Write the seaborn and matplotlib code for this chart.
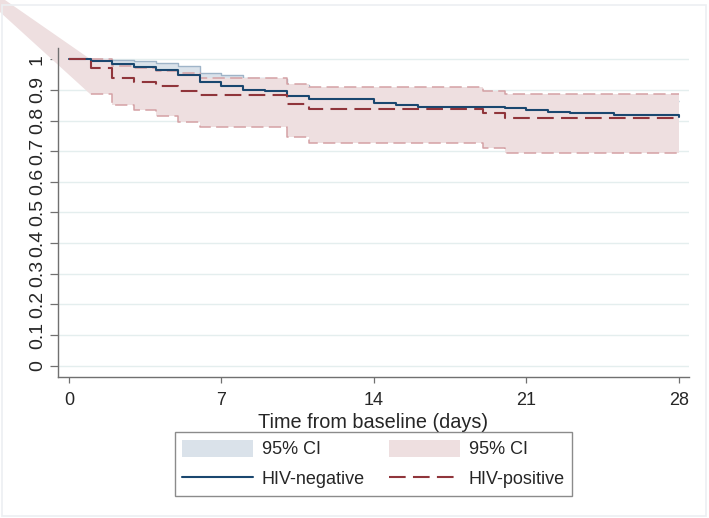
import numpy as np
import pandas as pd
import matplotlib
matplotlib.use('Agg')
import matplotlib.pyplot as plt
import seaborn as sns
from matplotlib.patches import Patch, Rectangle
from matplotlib.lines import Line2D

# ── Data ───────────────────────────────────────────────────────────────────────
neg_t = [0, 1, 2, 3, 4, 5, 6, 7, 8, 9, 10, 11, 14, 15, 16, 20, 21, 22, 23, 25, 28]
neg_s = [1.0, 0.995, 0.985, 0.976, 0.965, 0.950, 0.926, 0.912, 0.901, 0.896, 0.879,
         0.869, 0.857, 0.850, 0.845, 0.840, 0.834, 0.827, 0.823, 0.818, 0.812]

neg_ci_t = [1, 2, 3, 4, 5, 6, 7, 8, 9, 10, 11, 14, 15, 16, 20, 21, 22, 23, 25, 28]
neg_hi = [1.0, 0.997, 0.993, 0.989, 0.978, 0.956, 0.948, 0.938, 0.934, 0.915, 0.906,
          0.896, 0.890, 0.886, 0.882, 0.877, 0.872, 0.868, 0.864, 0.864]
neg_lo = [0.965, 0.955, 0.945, 0.935, 0.915, 0.885, 0.872, 0.860, 0.855, 0.835, 0.825,
          0.810, 0.803, 0.797, 0.791, 0.784, 0.776, 0.771, 0.765, 0.765]

pos_t = [0, 1, 2, 3, 4, 5, 6, 10, 11, 19, 20, 28]
pos_s = [1.0, 0.972, 0.940, 0.927, 0.912, 0.897, 0.882, 0.853, 0.839, 0.823, 0.809, 0.809]

pos_ci_t = [1, 2, 3, 4, 5, 6, 10, 11, 19, 20, 28]
pos_hi = [1.0, 0.978, 0.970, 0.963, 0.955, 0.939, 0.919, 0.908, 0.897, 0.885, 0.885]
pos_lo = [0.885, 0.850, 0.834, 0.814, 0.796, 0.778, 0.747, 0.728, 0.711, 0.693, 0.693]

# lead-in wedge of the HIV-positive band (as rendered in the original)
lead_t = [-6.5, 1]
lead_hi = [1.37, 1.0]
lead_lo = [1.37, 0.885]

y_ticks = [0, 0.1, 0.2, 0.3, 0.4, 0.5, 0.6, 0.7, 0.8, 0.9, 1]
y_labels = ['0', '0.1', '0.2', '0.3', '0.4', '0.5', '0.6', '0.7', '0.8', '0.9', '1']
x_ticks = [0, 7, 14, 21, 28]

# ── Style ──────────────────────────────────────────────────────────────────────
sns.set_style('white')
plt.rcParams['font.family'] = ['Liberation Sans', 'DejaVu Sans']
plt.rcParams['font.size'] = 13

navy = '#1a476f'
maroon = '#90353b'
blue_fill = '#dae2ea'
blue_edge = '#9fb4c8'
pink_fill = '#eedfe0'
pink_edge = '#d4a1a4'
grid_col = '#e4eeee'
axis_col = '#707070'
dash = (0, (8, 3.5))

fig = plt.figure(figsize=(7.09, 5.18), dpi=100)
ax = fig.add_axes([0.0818, 0.2722, 0.890, 0.635])

df_neg = pd.DataFrame({'t': neg_t, 's': neg_s})
df_pos = pd.DataFrame({'t': pos_t, 's': pos_s})

# ── CI bands ───────────────────────────────────────────────────────────────────
ax.fill_between(neg_ci_t, neg_lo, neg_hi, step='post', color=blue_fill, lw=0, zorder=1)
ax.step(neg_ci_t, neg_hi, where='post', color=blue_edge, lw=1.0, zorder=1.1,
        solid_capstyle='butt')

ax.fill_between(lead_t, lead_lo, lead_hi, color=pink_fill, lw=0, zorder=2, clip_on=False)
ax.fill_between(pos_ci_t, pos_lo, pos_hi, step='post', color=pink_fill, lw=0, zorder=2)
ax.step(pos_ci_t, pos_hi, where='post', color=pink_edge, lw=1.1, ls=dash, zorder=2.1,
        dash_capstyle='butt')
ax.step(pos_ci_t, pos_lo, where='post', color=pink_edge, lw=1.1, ls=dash, zorder=2.1,
        dash_capstyle='butt')

# ── KM curves ──────────────────────────────────────────────────────────────────
sns.lineplot(data=df_neg, x='t', y='s', estimator=None, drawstyle='steps-post',
             color=navy, lw=1.5, ax=ax, zorder=3)
sns.lineplot(data=df_pos, x='t', y='s', estimator=None, drawstyle='steps-post',
             color=maroon, lw=1.5, linestyle=dash, ax=ax, zorder=4)

# ── Axes ───────────────────────────────────────────────────────────────────────
ax.set_xlim(-0.5, 28.46)
ax.set_ylim(-0.037, 1.0365)
ax.set_yticks(y_ticks)
ax.set_yticklabels(y_labels, rotation=90, va='center', fontsize=14)
ax.set_xticks(x_ticks)
ax.set_xticklabels([str(v) for v in x_ticks], fontsize=13)
ax.set_xlabel('Time from baseline (days)', fontsize=14.3, labelpad=3)
ax.set_ylabel('')
ax.yaxis.grid(True, color=grid_col, lw=1.0, zorder=0)
ax.xaxis.grid(False)
ax.set_axisbelow(True)
for side in ['top', 'right']:
    ax.spines[side].set_visible(False)
for side in ['left', 'bottom']:
    ax.spines[side].set_color(axis_col)
    ax.spines[side].set_linewidth(1.0)
ax.tick_params(axis='y', left=True, direction='out', length=5.8, width=0.9,
               color=axis_col, pad=3)
ax.tick_params(axis='x', bottom=True, direction='out', length=4.5, width=0.9,
               color=axis_col, pad=6)

# ── Legend ─────────────────────────────────────────────────────────────────────
handles = [
    Patch(facecolor=blue_fill, edgecolor='none'),
    Line2D([], [], color=navy, lw=1.5),
    Patch(facecolor=pink_fill, edgecolor='none'),
    Line2D([], [], color=maroon, lw=1.5, ls=dash),
]
labels = ['95% CI', 'HIV-negative', '95% CI', 'HIV-positive']
leg = fig.legend(handles, labels, ncol=2, loc='center', fontsize=13,
                 bbox_to_anchor=(0.2468, 0.0483, 0.560, 0.112), mode='expand',
                 bbox_transform=fig.transFigure, frameon=True, fancybox=False,
                 handlelength=3.9, handleheight=1.1, handletextpad=0.5,
                 labelspacing=0.62, borderpad=0.4, borderaxespad=0, columnspacing=1.2)
leg.get_frame().set_edgecolor('#6e6e6e')
leg.get_frame().set_linewidth(1.0)

# faint outer frame of the graph region
fig.patches.append(Rectangle((0.003, 0.004), 0.993, 0.986, transform=fig.transFigure,
                             fill=False, edgecolor='#eceff2', lw=1.2))

plt.savefig('out.png', dpi=100)
plt.close()
